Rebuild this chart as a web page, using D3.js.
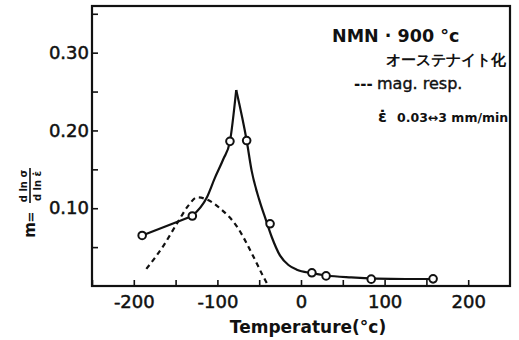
<!DOCTYPE html>
<html lang="ja">
<head>
<meta charset="UTF-8">
<title>m vs Temperature</title>
<style>
  html, body { margin: 0; padding: 0; background: #fff; }
  svg { display: block; }
  text { font-family: "DejaVu Sans", sans-serif; fill: #111; }
</style>
</head>
<body>
<div id="chart"></div>
<script src="https://d3js.org/d3.v7.min.js"></script>
<script>
// measured points (open circles)
const pointT = [-190, -130, -85, -65, -37, 13, 30, 84, 158];
const pointM = [0.065, 0.090, 0.186, 0.187, 0.080, 0.017, 0.013, 0.0088, 0.0092];

// solid fitted curve, drawn in three pieces (straight start, rise, fall after the cusp)
const startT = [-190, -130];
const startM = [0.065, 0.090];
const riseT = [-130, -113, -103, -93, -85, -77.5];
const riseM = [0.090, 0.113, 0.139, 0.163, 0.186, 0.252];
const fallT = [-77.5, -65, -59, -50, -42, -35, -25, -15, -5, 13, 30, 60, 90, 125, 158];
const fallM = [0.252, 0.187, 0.148, 0.111, 0.085, 0.063, 0.039, 0.027, 0.021, 0.0165, 0.0135, 0.011, 0.0095, 0.009, 0.009];

// dashed "mag. resp." curve
const magT = [-185, -165, -148, -135, -124, -112, -97, -77, -57, -46, -39];
const magM = [0.022, 0.051, 0.081, 0.103, 0.114, 0.111, 0.100, 0.077, 0.038, 0.014, 0.0];

const xTicks = [-250, -200, -150, -100, -50, 0, 50, 100, 150, 200];
const xLabels = [-200, -100, 0, 100, 200];
const yTicks = [0.05, 0.10, 0.15, 0.20, 0.25, 0.30, 0.35];
const yLabels = ["0.10", "0.20", "0.30"];

const W = 519, H = 340;
const mLeft = 92, mRight = 510, mTop = 6, mBottom = 286;

const svg = d3.select("#chart").append("svg")
  .attr("width", W).attr("height", H);

const x = d3.scaleLinear().domain([-250, 250]).range([mLeft, mRight]);
const y = d3.scaleLinear().domain([0, 0.36]).range([mBottom, mTop]);

// frame
svg.append("rect")
  .attr("x", mLeft).attr("y", mTop)
  .attr("width", mRight - mLeft).attr("height", mBottom - mTop)
  .attr("fill", "none").attr("stroke", "#111").attr("stroke-width", 2.2);

// axes with inward ticks
const xAxis = d3.axisBottom(x)
  .tickValues(xTicks)
  .tickSizeInner(-6).tickSizeOuter(0).tickPadding(9)
  .tickFormat(d => xLabels.includes(d) ? (d < 0 ? "-" + Math.abs(d) : d) : "");
const gx = svg.append("g").attr("transform", `translate(0,${mBottom})`).call(xAxis);
gx.select(".domain").remove();
gx.selectAll(".tick line").attr("stroke", "#111").attr("stroke-width", 1.6);
gx.selectAll(".tick text").attr("font-size", 18).attr("fill", "#111")
  .attr("stroke", "#111").attr("stroke-width", 0.5);

const yAxis = d3.axisLeft(y)
  .tickValues(yTicks)
  .tickSizeInner(-6).tickSizeOuter(0).tickPadding(3)
  .tickFormat(d => { const s = d.toFixed(2); return yLabels.includes(s) ? s : ""; });
const gy = svg.append("g").attr("transform", `translate(${mLeft},0)`).call(yAxis);
gy.select(".domain").remove();
gy.selectAll(".tick line").attr("stroke", "#111").attr("stroke-width", 1.6);
gy.selectAll(".tick text").attr("font-size", 18).attr("fill", "#111")
  .attr("stroke", "#111").attr("stroke-width", 0.5);

// x axis title
svg.append("text")
  .attr("x", 308).attr("y", 333)
  .attr("text-anchor", "middle")
  .attr("font-size", 17).attr("font-weight", "bold")
  .text("Temperature(°c)");

// y axis title: m = d ln σ / d ln ε̇  (rotated)
const yt = svg.append("g").attr("transform", "translate(30,200) rotate(-90)");
yt.append("text").attr("x", -30).attr("y", 5).attr("text-anchor", "middle")
  .attr("font-size", 15).attr("font-weight", "bold").text("m");
yt.append("text").attr("x", -17).attr("y", 5).attr("text-anchor", "middle")
  .attr("font-size", 13).attr("font-weight", "bold").text("=");
yt.append("line").attr("x1", -3).attr("x2", 32).attr("y1", 0).attr("y2", 0)
  .attr("stroke", "#111").attr("stroke-width", 1.6);
yt.append("text").attr("x", 14).attr("y", -3).attr("text-anchor", "middle")
  .attr("font-size", 10).attr("font-weight", "bold").text("d ln σ");
yt.append("text").attr("x", 14).attr("y", 11).attr("text-anchor", "middle")
  .attr("font-size", 10).attr("font-weight", "bold").text("d ln ε̇");

// curves
const line = (ts, ms, curve) => d3.line()
  .x((d, i) => x(ts[i])).y((d, i) => y(ms[i]))
  .curve(curve)(ts);

svg.append("path").attr("d", line(magT, magM, d3.curveMonotoneX))
  .attr("fill", "none").attr("stroke", "#111").attr("stroke-width", 2.2)
  .attr("stroke-dasharray", "5,4");

[[startT, startM, d3.curveLinear], [riseT, riseM, d3.curveMonotoneX],
 [fallT, fallM, d3.curveMonotoneX]].forEach(([ts, ms, c]) => {
  svg.append("path").attr("d", line(ts, ms, c))
    .attr("fill", "none").attr("stroke", "#111").attr("stroke-width", 2.2);
});

svg.selectAll("circle.pt").data(pointT).enter().append("circle")
  .attr("class", "pt")
  .attr("cx", d => x(d)).attr("cy", (d, i) => y(pointM[i]))
  .attr("r", 3.8).attr("fill", "#fff").attr("stroke", "#111").attr("stroke-width", 2);

// legend / annotation
svg.append("text").attr("x", 332).attr("y", 42)
  .attr("font-size", 17.5).attr("font-weight", "bold")
  .text("NMN · 900 °c");
svg.append("text").attr("x", 386).attr("y", 65)
  .attr("font-family", "Noto Sans CJK JP").attr("font-size", 15).attr("font-weight", "bold")
  .text("オーステナイト化");
svg.append("text").attr("x", 354).attr("y", 89)
  .attr("font-size", 15).attr("font-weight", "bold")
  .text("---");
svg.append("text").attr("x", 377).attr("y", 89)
  .attr("font-size", 16).attr("stroke", "#111").attr("stroke-width", 0.4)
  .text("mag. resp.");
svg.append("text").attr("x", 378).attr("y", 122)
  .attr("font-size", 16).attr("font-weight", "bold")
  .text("ε̇");
svg.append("text").attr("x", 397).attr("y", 122)
  .attr("font-size", 12.5).attr("font-weight", "bold")
  .text("0.03↔3 mm/min");
</script>
</body>
</html>
